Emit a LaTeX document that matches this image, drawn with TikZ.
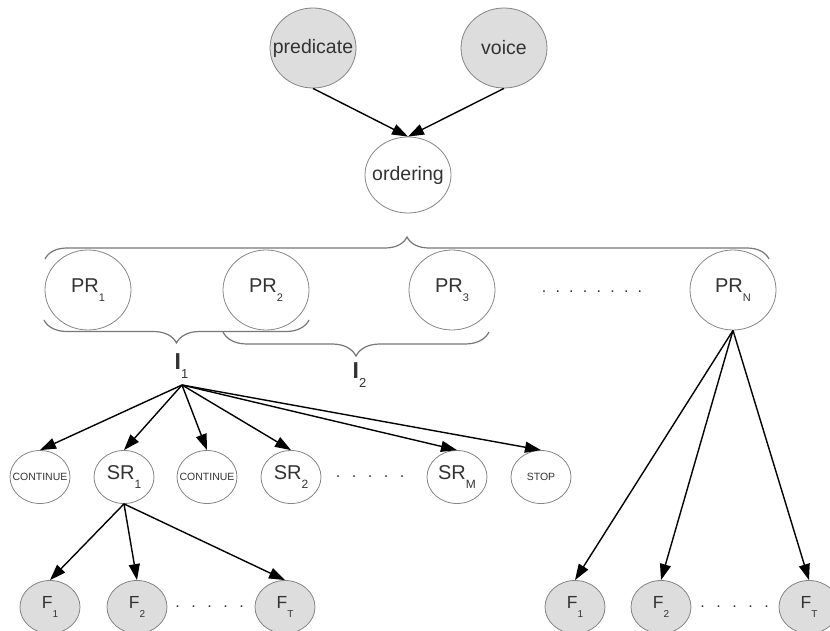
\documentclass[tikz,border=0pt]{standalone}
\usepackage{fontspec}
\setmainfont{Liberation Sans}
\usetikzlibrary{shapes.geometric,arrows.meta,decorations.pathreplacing}
\definecolor{txt}{HTML}{333333}
\definecolor{edgec}{HTML}{858585}
\definecolor{shade}{HTML}{DDDDDD}
\definecolor{bracec}{HTML}{777777}
\newcommand\fsz[1]{\fontsize{#1}{#1}\selectfont}
\newcommand\lbl[4]{\makebox[0pt]{{\fsz{#3}#1}\raisebox{-8.5pt}{\fsz{#4}#2}}}
\newcommand\plain[2]{\makebox[0pt]{\fsz{#2}#1}}
\newcommand\dt[1]{\makebox[#1]{.}}
\tikzset{
  ell/.style={ellipse, draw=edgec, line width=0.8pt, inner sep=0pt, text=txt},
  bignode/.style={ell, minimum width=86pt, minimum height=80pt},
  smallnode/.style={ell, minimum width=60pt, minimum height=53pt},
  shaded/.style={fill=shade},
  arr/.style={-{Triangle[length=16pt,width=11pt]}, line width=1.4pt, black},
  brc/.style={decorate, decoration={brace, amplitude=#1}, draw=bracec, line width=1.2pt},
  dotsnode/.style={inner sep=0pt, text=txt, font=\fsz{16}},
  ilabel/.style={inner sep=0pt, text=txt, anchor=base west}
}
\begin{document}
\begin{tikzpicture}[x=1pt,y=-1pt]
\useasboundingbox (0,0) rectangle (830,631);
% top
\node[bignode,shaded] (pred) at (313,48) {\plain{predicate}{19.5}};
\node[bignode,shaded] (voice) at (504,48) {\plain{voice}{19.5}};
\node[bignode,minimum height=76pt] (ord) at (408,175) {\plain{ordering}{19.5}};
\draw[arr] (pred.south) -- (ord.north);
\draw[arr] (voice.south) -- (ord.north);
% PR row
\node[bignode] (pr1) at (88,290) {\lbl{PR}{1}{20}{11}};
\node[bignode] (pr2) at (266,290) {\lbl{PR}{2}{20}{11}};
\node[bignode] (pr3) at (452,290) {\lbl{PR}{3}{20}{11}};
\node[bignode] (prn) at (733,290) {\lbl{PR}{N}{20}{11}};
\node[dotsnode] (prdots) at (592,292) {\dt{13.7pt}\dt{13.7pt}\dt{13.7pt}\dt{13.7pt}\dt{13.7pt}\dt{13.7pt}\dt{13.7pt}\dt{13.7pt}};
% braces
\draw[brc=22pt] (45,259) -- (769,259);
\draw[brc=23pt] (309,320) -- (44,320);
\draw[brc=24pt] (489,332) -- (223,332);
\node[ilabel] (i1) at (174.5,369) {{\fsz{23}\bfseries I}\raisebox{-9pt}{\fsz{13}1}};
\node[ilabel] (i2) at (352.5,378) {{\fsz{23}\bfseries I}\raisebox{-9pt}{\fsz{13}2}};
\coordinate (src) at (182,385);
% SR row
\node[smallnode] (c1) at (40,477) {\plain{CONTINUE}{10.5}};
\node[smallnode] (sr1) at (124,477) {\lbl{SR}{1}{20}{12}};
\node[smallnode] (c2) at (207,477) {\plain{CONTINUE}{10.5}};
\node[smallnode] (sr2) at (291,477) {\lbl{SR}{2}{20}{12}};
\node[dotsnode] (srdots) at (370,477) {\dt{16pt}\dt{16pt}\dt{16pt}\dt{16pt}\dt{16pt}};
\node[smallnode] (srm) at (457,477) {\lbl{SR}{M}{20}{12}};
\node[smallnode] (stop) at (541,477) {\plain{STOP}{10.5}};
\foreach \t in {c1,sr1,c2,sr2,srm,stop} \draw[arr] (src) -- (\t.north);
% F rows
\node[smallnode,shaded] (f1) at (50,607) {\lbl{F}{1}{17.5}{10}};
\node[smallnode,shaded] (f2) at (137,607) {\lbl{F}{2}{17.5}{10}};
\node[dotsnode] (fdots) at (209.5,607) {\dt{16pt}\dt{16pt}\dt{16pt}\dt{16pt}\dt{16pt}};
\node[smallnode,shaded] (ft) at (285,607) {\lbl{F}{T}{17.5}{10}};
\node[smallnode,shaded] (g1) at (575,607) {\lbl{F}{1}{17.5}{10}};
\node[smallnode,shaded] (g2) at (661,607) {\lbl{F}{2}{17.5}{10}};
\node[dotsnode] (gdots) at (734.5,607) {\dt{16pt}\dt{16pt}\dt{16pt}\dt{16pt}\dt{16pt}};
\node[smallnode,shaded] (gt) at (809,607) {\lbl{F}{T}{17.5}{10}};
\foreach \t in {f1,f2,ft} \draw[arr] (sr1.south) -- (\t.north);
\foreach \t in {g1,g2,gt} \draw[arr] (prn.south) -- (\t.north);
\end{tikzpicture}
\end{document}
